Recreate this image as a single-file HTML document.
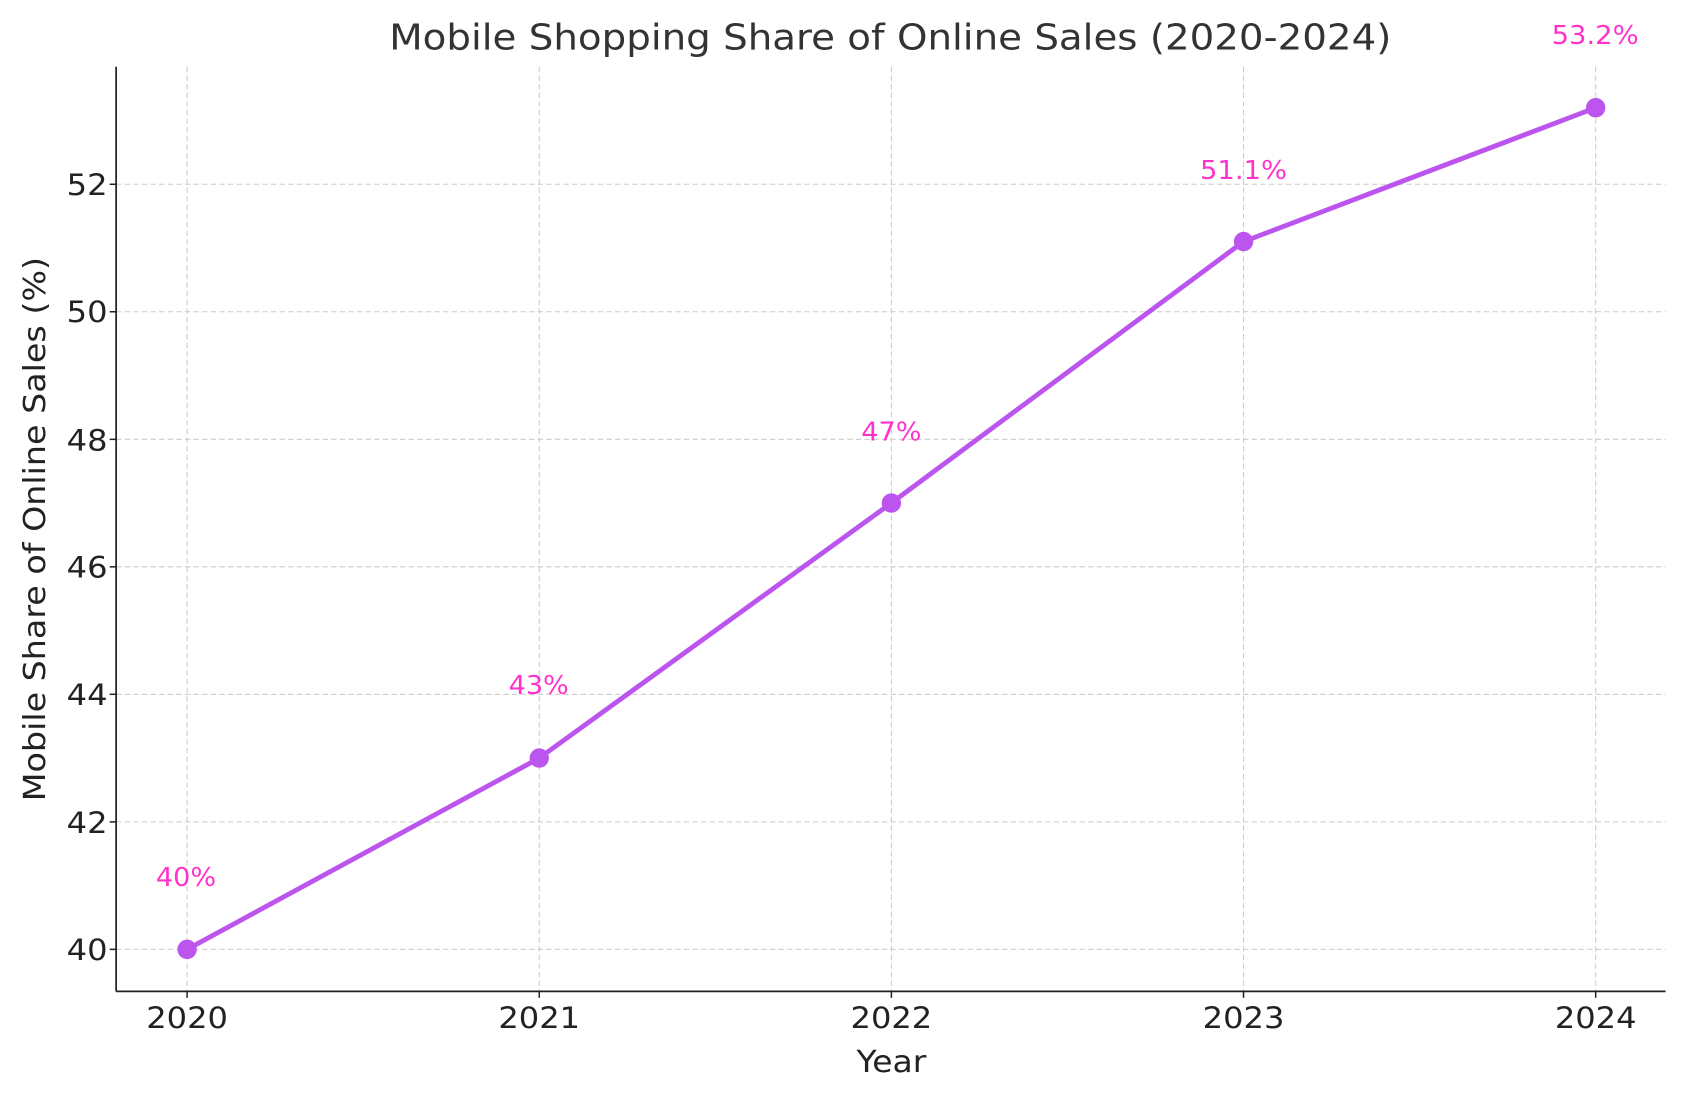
<!DOCTYPE html>
<html><head><meta charset="utf-8"><style>html,body{margin:0;padding:0;background:#fff}svg{display:block}</style></head>
<body>
<svg width="1686" height="1097" viewBox="0 0 1568 1018" preserveAspectRatio="none" xmlns="http://www.w3.org/2000/svg" font-family="DejaVu Sans, Liberation Sans, sans-serif">
<rect width="1568" height="1018" fill="#fff"/>
<g stroke="#cccccc" stroke-width="1" stroke-dasharray="5,3">
<line x1="174" y1="62" x2="174" y2="920"/><line x1="501.5" y1="62" x2="501.5" y2="920"/><line x1="829" y1="62" x2="829" y2="920"/><line x1="1156.5" y1="62" x2="1156.5" y2="920"/><line x1="1484" y1="62" x2="1484" y2="920"/>
<line x1="108" y1="881" x2="1549" y2="881"/><line x1="108" y1="762.7" x2="1549" y2="762.7"/><line x1="108" y1="644.3" x2="1549" y2="644.3"/><line x1="108" y1="526" x2="1549" y2="526"/><line x1="108" y1="407.7" x2="1549" y2="407.7"/><line x1="108" y1="289.3" x2="1549" y2="289.3"/><line x1="108" y1="171" x2="1549" y2="171"/>
</g>
<g stroke="#222" stroke-width="1.6"><line x1="108" y1="62" x2="108" y2="920"/><line x1="108" y1="920" x2="1549" y2="920"/></g>
<g stroke="#222" stroke-width="1.4">
<line x1="174" y1="920" x2="174" y2="926"/><line x1="501.5" y1="920" x2="501.5" y2="926"/><line x1="829" y1="920" x2="829" y2="926"/><line x1="1156.5" y1="920" x2="1156.5" y2="926"/><line x1="1484" y1="920" x2="1484" y2="926"/>
<line x1="102" y1="881" x2="108" y2="881"/><line x1="102" y1="762.7" x2="108" y2="762.7"/><line x1="102" y1="644.3" x2="108" y2="644.3"/><line x1="102" y1="526" x2="108" y2="526"/><line x1="102" y1="407.7" x2="108" y2="407.7"/><line x1="102" y1="289.3" x2="108" y2="289.3"/><line x1="102" y1="171" x2="108" y2="171"/>
</g>
<g font-size="27" fill="#222" text-anchor="middle">
<text x="174" y="954" textLength="76" lengthAdjust="spacingAndGlyphs">2020</text><text x="501.5" y="954" textLength="76" lengthAdjust="spacingAndGlyphs">2021</text><text x="829" y="954" textLength="76" lengthAdjust="spacingAndGlyphs">2022</text><text x="1156.5" y="954" textLength="76" lengthAdjust="spacingAndGlyphs">2023</text><text x="1484" y="954" textLength="76" lengthAdjust="spacingAndGlyphs">2024</text>
</g>
<g font-size="27" fill="#222" text-anchor="end">
<text x="100" y="891" textLength="38" lengthAdjust="spacingAndGlyphs">40</text><text x="100" y="773" textLength="38" lengthAdjust="spacingAndGlyphs">42</text><text x="100" y="654" textLength="38" lengthAdjust="spacingAndGlyphs">44</text><text x="100" y="536" textLength="38" lengthAdjust="spacingAndGlyphs">46</text><text x="100" y="418" textLength="38" lengthAdjust="spacingAndGlyphs">48</text><text x="100" y="299" textLength="38" lengthAdjust="spacingAndGlyphs">50</text><text x="100" y="181" textLength="38" lengthAdjust="spacingAndGlyphs">52</text>
</g>
<text x="829" y="995" font-size="28" fill="#222" text-anchor="middle" textLength="65" lengthAdjust="spacingAndGlyphs">Year</text>
<text transform="translate(42,491) rotate(-90)" font-size="28" fill="#222" text-anchor="middle" textLength="505" lengthAdjust="spacingAndGlyphs">Mobile Share of Online Sales (%)</text>
<text x="828" y="46" font-size="33" fill="#333" text-anchor="middle" textLength="932" lengthAdjust="spacingAndGlyphs">Mobile Shopping Share of Online Sales (2020-2024)</text>
<polyline points="174,881 501.5,703.5 829,466.8 1156.5,224.2 1484,100" fill="none" stroke="#bb55ee" stroke-width="4.5" stroke-linejoin="round"/>
<g fill="#bb55ee"><circle cx="174" cy="881" r="9"/><circle cx="501.5" cy="703.5" r="9"/><circle cx="829" cy="466.8" r="9"/><circle cx="1156.5" cy="224.2" r="9"/><circle cx="1484" cy="100" r="9"/></g>
<g font-size="24" fill="#ff33cc" text-anchor="middle">
<text x="173" y="822" textLength="56" lengthAdjust="spacingAndGlyphs">40%</text><text x="501" y="644" textLength="56" lengthAdjust="spacingAndGlyphs">43%</text><text x="829" y="409" textLength="56" lengthAdjust="spacingAndGlyphs">47%</text><text x="1156.5" y="166" textLength="81" lengthAdjust="spacingAndGlyphs">51.1%</text><text x="1483.5" y="41" textLength="81" lengthAdjust="spacingAndGlyphs">53.2%</text>
</g>
</svg>
</body></html>
